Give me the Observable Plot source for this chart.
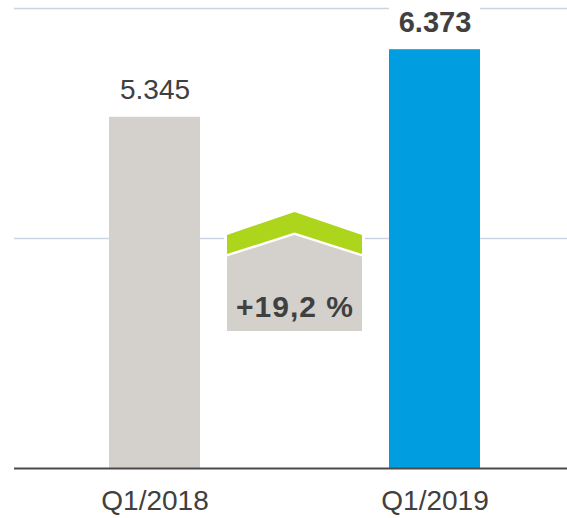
<!DOCTYPE html>
<html>
<head>
<meta charset="utf-8">
<script src="https://cdn.jsdelivr.net/npm/d3@7"></script>
<script src="https://cdn.jsdelivr.net/npm/@observablehq/plot@0.6"></script>
<style>
  html, body { margin: 0; padding: 0; background: #fff; }
  #chart svg { display: block; }
</style>
</head>
<body>
<div id="chart"></div>
<script>
// ---- data ----
const categories = ["Q1/2018", "Q1/2019"];
const values = [5.345, 6.373];
const valueLabels = ["5.345", "6.373"];
const highlight = [false, true];
const gridValues = [3.5, 7];
const yDomain = [0, 7];
const changeLabel = "+19,2 %";

const data = categories.map((c, i) => ({
  category: c, value: values[i], label: valueLabels[i], highlight: highlight[i]
}));

const FONT = "'Liberation Sans', Arial, Helvetica, sans-serif";
const GRAY = "#d4d1cc", BLUE = "#009ee0", GREEN = "#acd51c", TEXT = "#404040";

// custom mark: change badge between the bars
function changeBadge(index, scales) {
  const x = scales.x, y = scales.y;
  const bw = typeof x.bandwidth === "function" ? x.bandwidth() : (x(categories[1]) - x(categories[0])) * 0.325;
  const L = x(categories[0]) + bw + 27;
  const R = x(categories[1]) - 27;
  const cx = (L + R) / 2;
  const y0 = y(gridValues[0]);
  const ns = "http://www.w3.org/2000/svg";
  const g = document.createElementNS(ns, "g");
  const poly = (pts, fill) => {
    const p = document.createElementNS(ns, "polygon");
    p.setAttribute("points", pts.map(d => d.join(",")).join(" "));
    p.setAttribute("fill", fill);
    g.appendChild(p);
  };
  // white cut for the gridline
  poly([[L - 3, y0 - 3], [R + 3, y0 - 3], [R + 3, y0 + 3], [L - 3, y0 + 3]], "#fff");
  // green chevron
  poly([[L, y0 - 3], [cx, y0 - 26], [R, y0 - 3], [R, y0 + 16], [cx, y0 - 5.5], [L, y0 + 16]], GREEN);
  // gray pentagon
  poly([[L, y0 + 18.5], [cx, y0 - 3], [R, y0 + 18.5], [R, y0 + 93], [L, y0 + 93]], GRAY);
  const t = document.createElementNS(ns, "text");
  t.setAttribute("x", cx + 0.5);
  t.setAttribute("y", y0 + 79);
  t.setAttribute("text-anchor", "middle");
  t.setAttribute("font-family", FONT);
  t.setAttribute("font-weight", "bold");
  t.setAttribute("font-size", "30px");
  t.setAttribute("letter-spacing", "1px");
  t.setAttribute("fill", TEXT);
  t.textContent = changeLabel;
  g.appendChild(t);
  return g;
}

const chart = Plot.plot({
  width: 567,
  height: 518,
  marginTop: 8,
  marginBottom: 50,
  marginLeft: 14,
  marginRight: 0,
  style: { fontFamily: FONT, background: "#fff", overflow: "visible" },
  x: { type: "band", domain: categories, range: [109, 480], paddingInner: 0.675, paddingOuter: 0 },
  y: { domain: yDomain, axis: null },
  marks: [
    Plot.ruleY(gridValues, { stroke: "#c9d5e2", strokeWidth: 1.5 }),
    Plot.barY(data.filter(d => d.highlight), {
      x: "category", y1: "value", y2: () => yDomain[1], fill: "#fff", insetTop: -4
    }),
    Plot.barY(data, {
      x: "category", y: "value", fill: d => d.highlight ? BLUE : GRAY
    }),
    Plot.ruleY([0], { stroke: "#4a4a4a", strokeWidth: 2 }),
    Plot.text(data.filter(d => !d.highlight), {
      x: "category", y: "value", text: "label", dy: -18, lineAnchor: "bottom",
      fontSize: 28, fill: TEXT
    }),
    Plot.text(data.filter(d => d.highlight), {
      x: "category", y: "value", text: "label", dy: -18, lineAnchor: "bottom",
      fontSize: 29, fontWeight: "bold", fill: TEXT
    }),
    changeBadge,
    Plot.axisX({ tickSize: 0, tickPadding: 22, fontSize: 28, color: TEXT, label: null })
  ]
});
document.getElementById("chart").appendChild(chart);
</script>
</body>
</html>
